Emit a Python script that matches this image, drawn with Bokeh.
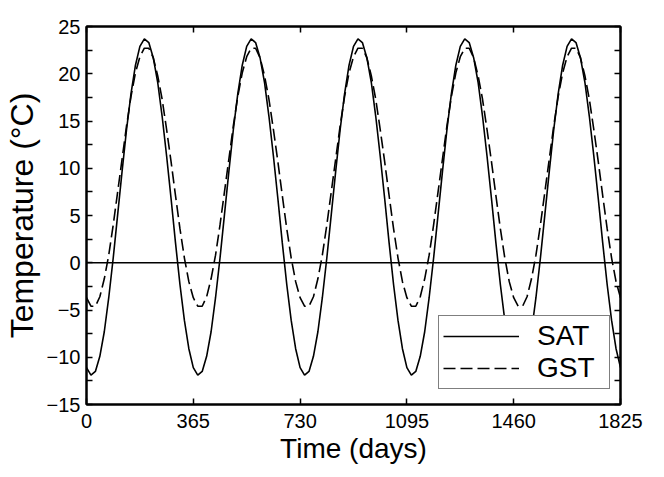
from bokeh.plotting import figure
from bokeh.models import FixedTicker, LinearAxis, Span, Legend, LegendItem, Range1d
from bokeh.embed import file_html
from bokeh.resources import INLINE

# Sample times (days), roughly semi-monthly over five years
DAYS = [
    0, 15.2, 30.4, 45.6, 60.8, 76.0, 91.3, 106.5, 121.7, 136.9, 152.1, 167.3,
    182.5, 197.7, 212.9, 228.1, 243.3, 258.5, 273.8, 289.0, 304.2, 319.4, 334.6, 349.8,
    365, 380.2, 395.4, 410.6, 425.8, 441.0, 456.3, 471.5, 486.7, 501.9, 517.1, 532.3,
    547.5, 562.7, 577.9, 593.1, 608.3, 623.5, 638.8, 654.0, 669.2, 684.4, 699.6, 714.8,
    730, 745.2, 760.4, 775.6, 790.8, 806.0, 821.3, 836.5, 851.7, 866.9, 882.1, 897.3,
    912.5, 927.7, 942.9, 958.1, 973.3, 988.5, 1003.8, 1019.0, 1034.2, 1049.4, 1064.6, 1079.8,
    1095, 1110.2, 1125.4, 1140.6, 1155.8, 1171.0, 1186.3, 1201.5, 1216.7, 1231.9, 1247.1, 1262.3,
    1277.5, 1292.7, 1307.9, 1323.1, 1338.3, 1353.5, 1368.8, 1384.0, 1399.2, 1414.4, 1429.6, 1444.8,
    1460, 1475.2, 1490.4, 1505.6, 1520.8, 1536.0, 1551.3, 1566.5, 1581.7, 1596.9, 1612.1, 1627.3,
    1642.5, 1657.7, 1672.9, 1688.1, 1703.3, 1718.5, 1733.8, 1749.0, 1764.2, 1779.4, 1794.6, 1809.8,
    1825,
]

# Surface air temperature (deg C)
SAT = [
    -11.1, -11.9, -11.5, -9.9, -7.3, -3.7, 0.5, 5.1, 9.7, 14.1, 17.9, 20.9,
    22.9, 23.7, 23.3, 21.7, 19.1, 15.5, 11.3, 6.8, 2.1, -2.3, -6.1, -9.1,
    -11.1, -11.9, -11.5, -9.9, -7.3, -3.7, 0.5, 5.1, 9.7, 14.1, 17.9, 20.9,
    22.9, 23.7, 23.3, 21.7, 19.1, 15.5, 11.3, 6.8, 2.1, -2.3, -6.1, -9.1,
    -11.1, -11.9, -11.5, -9.9, -7.3, -3.7, 0.5, 5.1, 9.7, 14.1, 17.9, 20.9,
    22.9, 23.7, 23.3, 21.7, 19.1, 15.5, 11.3, 6.8, 2.1, -2.3, -6.1, -9.1,
    -11.1, -11.9, -11.5, -9.9, -7.3, -3.7, 0.5, 5.1, 9.7, 14.1, 17.9, 20.9,
    22.9, 23.7, 23.3, 21.7, 19.1, 15.5, 11.3, 6.8, 2.1, -2.3, -6.1, -9.1,
    -11.1, -11.9, -11.5, -9.9, -7.3, -3.7, 0.5, 5.1, 9.7, 14.1, 17.9, 20.9,
    22.9, 23.7, 23.3, 21.7, 19.1, 15.5, 11.3, 6.8, 2.1, -2.3, -6.1, -9.1,
    -11.1,
]

# Ground surface temperature (deg C)
GST = [
    -3.7, -4.6, -4.6, -3.6, -1.7, 0.8, 4.0, 7.5, 11.0, 14.5, 17.6, 20.1,
    21.8, 22.7, 22.7, 21.7, 19.8, 17.3, 14.1, 10.7, 7.1, 3.6, 0.5, -2.0,
    -3.7, -4.6, -4.6, -3.6, -1.7, 0.8, 4.0, 7.5, 11.0, 14.5, 17.6, 20.1,
    21.8, 22.7, 22.7, 21.7, 19.8, 17.3, 14.1, 10.7, 7.1, 3.6, 0.5, -2.0,
    -3.7, -4.6, -4.6, -3.6, -1.7, 0.8, 4.0, 7.5, 11.0, 14.5, 17.6, 20.1,
    21.8, 22.7, 22.7, 21.7, 19.8, 17.3, 14.1, 10.7, 7.1, 3.6, 0.5, -2.0,
    -3.7, -4.6, -4.6, -3.6, -1.7, 0.8, 4.0, 7.5, 11.0, 14.5, 17.6, 20.1,
    21.8, 22.7, 22.7, 21.7, 19.8, 17.3, 14.1, 10.7, 7.1, 3.6, 0.5, -2.0,
    -3.7, -4.6, -4.6, -3.6, -1.7, 0.8, 4.0, 7.5, 11.0, 14.5, 17.6, 20.1,
    21.8, 22.7, 22.7, 21.7, 19.8, 17.3, 14.1, 10.7, 7.1, 3.6, 0.5, -2.0,
    -3.7,
]

X_TICKS = [0, 365, 730, 1095, 1460, 1825]
Y_TICKS = [-15, -10, -5, 0, 5, 10, 15, 20, 25]
Y_MINOR = [-12.5, -7.5, -2.5, 2.5, 7.5, 12.5, 17.5, 22.5]

FONT = "Liberation Sans"

p = figure(
    width=648, height=469,
    x_range=Range1d(0, 1825), y_range=Range1d(-15, 25),
    output_backend="svg", toolbar_location=None,
    min_border_left=79, min_border_right=28, min_border_top=26, min_border_bottom=65,
)
p.xgrid.visible = False
p.ygrid.visible = False
p.outline_line_color = "black"
p.outline_line_width = 2
p.background_fill_color = "white"
p.border_fill_color = "white"


def style_axis(ax, labels=True):
    ax.axis_line_color = "black"
    ax.axis_line_width = 2
    ax.major_tick_in = 6
    ax.major_tick_out = 0
    ax.minor_tick_in = 6
    ax.minor_tick_out = 0
    ax.major_tick_line_color = "black"
    ax.minor_tick_line_color = "black"
    ax.major_tick_line_width = 1.5
    ax.minor_tick_line_width = 1.5
    ax.major_label_text_font = FONT
    if labels:
        ax.major_label_text_color = "black"
        ax.major_label_text_font_size = "20px"
    else:
        ax.major_label_text_color = None
        ax.major_label_text_font_size = "1px"
        ax.major_label_standoff = 0


xa = p.xaxis[0]
xa.ticker = FixedTicker(ticks=X_TICKS)
style_axis(xa)
xa.major_label_standoff = 9
xa.axis_label = "Time (days)"
xa.axis_label_text_font = FONT
xa.axis_label_text_font_size = "28px"
xa.axis_label_text_font_style = "normal"
xa.axis_label_text_color = "black"
xa.axis_label_standoff = 2

ya = p.yaxis[0]
ya.ticker = FixedTicker(ticks=Y_TICKS, minor_ticks=Y_MINOR)
style_axis(ya)
ya.major_label_standoff = 6
ya.axis_label = "Temperature (°C)"
ya.axis_label_text_font = FONT
ya.axis_label_text_font_size = "32px"
ya.axis_label_text_font_style = "normal"
ya.axis_label_text_color = "black"
ya.axis_label_standoff = 4

top = LinearAxis(ticker=FixedTicker(ticks=X_TICKS))
style_axis(top, labels=False)
p.add_layout(top, "above")

right = LinearAxis(ticker=FixedTicker(ticks=Y_TICKS, minor_ticks=Y_MINOR))
style_axis(right, labels=False)
p.add_layout(right, "right")

p.add_layout(Span(location=0, dimension="width", line_color="black", line_width=1.5))

r_sat = p.line(DAYS, SAT, line_color="black", line_width=1.6)
r_gst = p.line(DAYS, GST, line_color="black", line_width=1.6, line_dash="12 5")

legend = Legend(
    items=[LegendItem(label="SAT", renderers=[r_sat]), LegendItem(label="GST", renderers=[r_gst])],
    location=(352, 15),
    border_line_color="black", border_line_width=1.5,
    background_fill_color="white", background_fill_alpha=1.0,
    label_text_font=FONT, label_text_font_size="28px", label_text_color="black",
    glyph_width=76, label_standoff=18, padding=4, spacing=0,
    label_width=68, label_height=20, glyph_height=20,
)
p.add_layout(legend)

open("out.html", "w").write(file_html(p, INLINE))
